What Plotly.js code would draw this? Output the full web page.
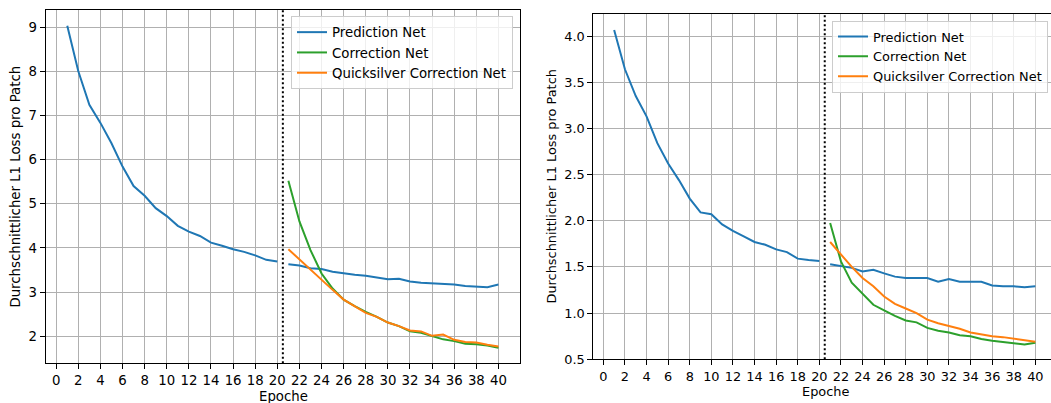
<!DOCTYPE html>
<html>
<head>
<meta charset="utf-8">
<script src="https://cdn.plot.ly/plotly-3.0.1.min.js"></script>
<style>
  html, body { margin: 0; padding: 0; background: #fff; }
  #chart { width: 1051px; height: 403px; }
</style>
</head>
<body>
<div id="chart"></div>
<script>
// ---- data ----
const epochs = [1,2,3,4,5,6,7,8,9,10,11,12,13,14,15,16,17,18,19,20,
                21,22,23,24,25,26,27,28,29,30,31,32,33,34,35,36,37,38,39,40];
const correctionEpochs = [21,22,23,24,25,26,27,28,29,30,31,32,33,34,35,36,37,38,39,40];

const seriesNames = ["Prediction Net", "Correction Net", "Quicksilver Correction Net"];
const xTitle = "Epoche";
const yTitle = "Durchschnittlicher L1 Loss pro Patch";
const xTickVals = [0,2,4,6,8,10,12,14,16,18,20,22,24,26,28,30,32,34,36,38,40];
const splitEpoch = 20.5;

// left chart
const leftPrediction = [9.03, 8.00, 7.24, 6.83, 6.37, 5.84, 5.40, 5.18, 4.90, 4.72,
                        4.50, 4.37, 4.27, 4.12, 4.05, 3.97, 3.91, 3.83, 3.73, 3.69,
                        3.63, 3.60, 3.54, 3.52, 3.46, 3.42, 3.39, 3.37, 3.33, 3.29,
                        3.30, 3.24, 3.21, 3.20, 3.19, 3.17, 3.14, 3.13, 3.11, 3.17];
const leftCorrection = [5.52, 4.60, 3.95, 3.42, 3.08, 2.83, 2.68, 2.55, 2.44, 2.31,
                        2.23, 2.11, 2.08, 2.01, 1.93, 1.89, 1.83, 1.82, 1.79, 1.74];
const leftQuicksilver = [3.97, 3.74, 3.50, 3.26, 3.05, 2.83, 2.67, 2.53, 2.44, 2.31,
                         2.23, 2.13, 2.11, 2.01, 2.04, 1.92, 1.87, 1.86, 1.81, 1.77];
const leftYTicks = [2,3,4,5,6,7,8,9];

// right chart
const rightPrediction = [4.065, 3.64, 3.35, 3.13, 2.84, 2.62, 2.44, 2.24, 2.09, 2.07,
                         1.96, 1.89, 1.83, 1.77, 1.74, 1.69, 1.66, 1.59, 1.575, 1.565,
                         1.53, 1.51, 1.49, 1.45, 1.47, 1.43, 1.395, 1.38, 1.38, 1.38,
                         1.34, 1.37, 1.34, 1.34, 1.34, 1.30, 1.29, 1.29, 1.28, 1.29];
const rightCorrection = [1.975, 1.56, 1.33, 1.21, 1.09, 1.03, 0.97, 0.92, 0.90, 0.84,
                         0.81, 0.79, 0.76, 0.75, 0.72, 0.70, 0.685, 0.67, 0.66, 0.68];
const rightQuicksilver = [1.77, 1.63, 1.50, 1.38, 1.29, 1.18, 1.10, 1.05, 1.00, 0.93,
                          0.89, 0.86, 0.83, 0.79, 0.77, 0.75, 0.74, 0.725, 0.71, 0.69];
const rightYTicks = [0.5,1.0,1.5,2.0,2.5,3.0,3.5,4.0];

// ---- styling ----
const W = 1051, H = 403;
const BLUE = "#1f77b4", GREEN = "#2ca02c", ORANGE = "#ff7f0e";
const FONT = "DejaVu Sans";
const LW = 2;

function px(x) { return x / W; }
function py(y) { return 1 - y / H; }

function predictionTraces(vals, xa, ya, leg) {
  const n = epochs.indexOf(20) + 1;
  return [
    { x: epochs.slice(0, n), y: vals.slice(0, n), xaxis: xa, yaxis: ya, legend: leg,
      name: seriesNames[0], mode: "lines", line: { color: BLUE, width: LW }, legendgroup: "p" + xa },
    { x: epochs.slice(n), y: vals.slice(n), xaxis: xa, yaxis: ya, legend: leg,
      name: seriesNames[0], mode: "lines", line: { color: BLUE, width: LW }, showlegend: false, legendgroup: "p" + xa }
  ];
}
function corrTrace(vals, name, color, xa, ya, leg) {
  return { x: correctionEpochs, y: vals, xaxis: xa, yaxis: ya, legend: leg, name: name,
           mode: "lines", line: { color: color, width: LW } };
}

const traces = [].concat(
  predictionTraces(leftPrediction, "x", "y", "legend"),
  [corrTrace(leftCorrection, seriesNames[1], GREEN, "x", "y", "legend"),
   corrTrace(leftQuicksilver, seriesNames[2], ORANGE, "x", "y", "legend")],
  predictionTraces(rightPrediction, "x2", "y2", "legend2"),
  [corrTrace(rightCorrection, seriesNames[1], GREEN, "x2", "y2", "legend2"),
   corrTrace(rightQuicksilver, seriesNames[2], ORANGE, "x2", "y2", "legend2")]
);

function axisBase(fs) {
  return {
    showgrid: true, gridcolor: "#b0b0b0", gridwidth: 1,
    showline: true, linecolor: "#000", linewidth: 1,
    ticks: "outside", ticklen: 5, tickwidth: 1, tickcolor: "#000",
    zeroline: false, tickfont: { family: FONT, size: fs, color: "#000" },
    fixedrange: true
  };
}

const fsL = 13.3, fsR = 12.9;

const layout = {
  width: W, height: H,
  margin: { l: 0, r: 0, t: 0, b: 0 },
  paper_bgcolor: "#fff", plot_bgcolor: "#fff",
  font: { family: FONT, color: "#000" },
  xaxis: Object.assign(axisBase(fsL), {
    domain: [px(45.7), px(520)], range: [-0.95, 41.95], tickvals: xTickVals,
    mirror: true, anchor: "y"
  }),
  yaxis: Object.assign(axisBase(fsL), {
    domain: [py(363.3), py(10)], range: [1.388, 9.385], tickvals: leftYTicks,
    mirror: true, anchor: "x"
  }),
  xaxis2: Object.assign(axisBase(fsR), {
    domain: [px(593.3), 1], range: [-0.93, 41.45], tickvals: xTickVals,
    mirror: true, anchor: "y2"
  }),
  yaxis2: Object.assign(axisBase(fsR), {
    domain: [py(359.3), py(14.3)], range: [0.5, 4.235], tickvals: rightYTicks,
    tickformat: ".1f", mirror: false, anchor: "x2"
  }),
  legend: {
    x: px(513), xanchor: "right", y: py(16), yanchor: "top",
    bgcolor: "rgba(255,255,255,0.8)", bordercolor: "#cccccc", borderwidth: 1,
    font: { family: FONT, size: fsL, color: "#000" }, tracegroupgap: 0
  },
  legend2: {
    x: px(1048), xanchor: "right", y: py(20.7), yanchor: "top",
    bgcolor: "rgba(255,255,255,0.8)", bordercolor: "#cccccc", borderwidth: 1,
    font: { family: FONT, size: fsR, color: "#000" }, tracegroupgap: 0
  },
  shapes: [
    { type: "line", xref: "x", yref: "y domain", x0: splitEpoch, x1: splitEpoch, y0: 0, y1: 1,
      line: { color: "#000", width: 2, dash: "2px,2.5px" } },
    { type: "line", xref: "x2", yref: "y2 domain", x0: splitEpoch, x1: splitEpoch, y0: 0, y1: 1,
      line: { color: "#000", width: 2, dash: "2px,2.5px" } }
  ],
  annotations: [
    { text: xTitle, xref: "paper", yref: "paper", x: px(283), y: py(396.7),
      xanchor: "center", yanchor: "middle", showarrow: false,
      font: { family: FONT, size: fsL, color: "#000" } },
    { text: yTitle, xref: "paper", yref: "paper", x: px(16), y: py(186.6),
      xanchor: "center", yanchor: "middle", showarrow: false, textangle: -90,
      font: { family: FONT, size: fsL, color: "#000" } },
    { text: xTitle, xref: "paper", yref: "paper", x: px(825), y: py(391.7),
      xanchor: "center", yanchor: "middle", showarrow: false,
      font: { family: FONT, size: fsR, color: "#000" } },
    { text: yTitle, xref: "paper", yref: "paper", x: px(551.7), y: py(186.8),
      xanchor: "center", yanchor: "middle", showarrow: false, textangle: -90,
      font: { family: FONT, size: fsR, color: "#000" } }
  ]
};

Plotly.newPlot("chart", traces, layout, { staticPlot: true, displayModeBar: false });
</script>
</body>
</html>
